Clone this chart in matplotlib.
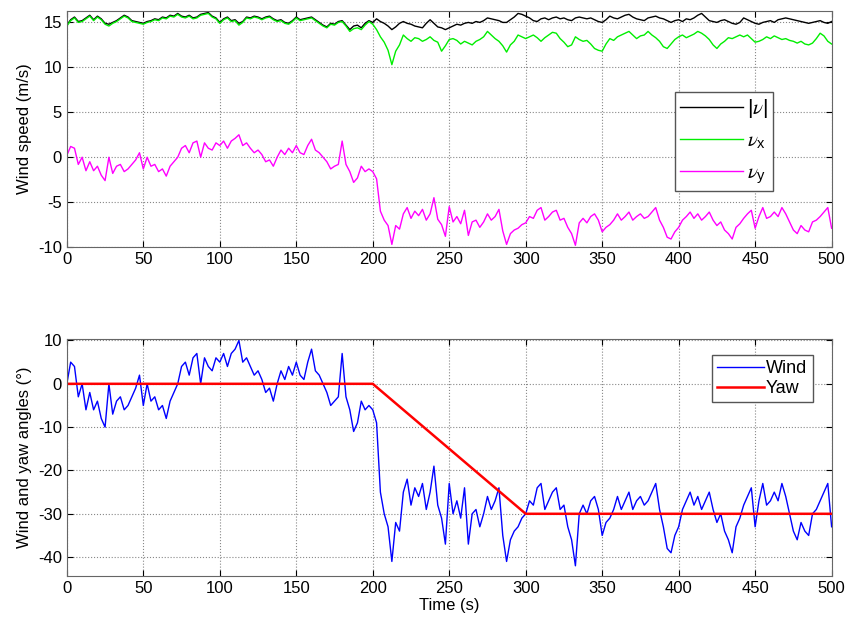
import numpy as np
import matplotlib.pyplot as plt

# time axis, one sample every 2.5 s
t = np.linspace(0, 500, 201)

v_abs = [
    14.7, 15.3, 15.6, 15.1, 15.2, 15.5, 15.8, 15.3, 15.7, 15.4, 14.9, 14.8, 15.0, 15.2, 15.5, 15.8, 15.6, 15.2, 15.1, 15.0,
    14.9, 15.1, 15.2, 15.4, 15.3, 15.6, 15.5, 15.8, 15.7, 16.0, 15.7, 15.6, 15.8, 15.5, 15.6, 15.9, 16.0, 16.1, 15.7, 15.5,
    15.0, 15.4, 15.6, 15.2, 15.3, 14.9, 15.1, 15.6, 15.5, 15.7, 15.6, 15.4, 15.6, 15.7, 15.4, 15.2, 15.3, 15.0, 14.9, 15.2,
    15.6, 15.3, 15.4, 15.5, 15.6, 15.3, 15.0, 14.7, 14.5, 14.9, 14.8, 15.1, 15.2, 14.7, 14.2, 14.6, 14.7, 14.4, 14.9, 15.2,
    15.0, 15.4, 15.1, 14.9, 14.6, 14.2, 14.5, 14.9, 15.1, 14.9, 14.8, 14.6, 14.5, 14.4, 14.9, 15.3, 14.9, 14.5, 14.4, 14.2,
    14.4, 14.6, 14.8, 14.7, 14.9, 15.0, 14.9, 15.1, 15.0, 15.2, 15.5, 15.4, 15.3, 15.2, 15.0, 15.0, 15.3, 15.6, 16.0, 15.9,
    15.7, 15.5, 15.2, 15.1, 15.4, 15.5, 15.3, 15.5, 15.6, 15.4, 15.5, 15.3, 15.2, 15.5, 15.6, 15.5, 15.4, 15.5, 15.3, 15.1,
    15.0, 15.3, 15.7, 15.5, 15.4, 15.6, 15.8, 15.9, 15.6, 15.4, 15.3, 15.2, 15.5, 15.6, 15.7, 15.5, 15.4, 15.2, 15.0, 15.2,
    15.3, 15.1, 15.4, 15.3, 15.5, 15.8, 16.0, 15.6, 15.2, 15.1, 15.0, 15.2, 15.3, 15.1, 14.9, 14.8, 15.0, 15.5, 15.3, 15.1,
    14.9, 14.8, 15.0, 15.1, 15.2, 15.0, 15.3, 15.4, 15.5, 15.4, 15.3, 15.2, 15.1, 15.0, 14.9, 15.0, 15.1, 15.2, 15.0, 14.9,
    15.1,
]

v_x = [
    14.6, 15.2, 15.5, 15.0, 15.1, 15.4, 15.7, 15.2, 15.6, 15.3, 14.8, 14.6, 14.9, 15.1, 15.4, 15.7, 15.5, 15.1, 15.0, 14.9,
    14.8, 15.0, 15.1, 15.3, 15.2, 15.5, 15.4, 15.7, 15.6, 15.9, 15.6, 15.5, 15.7, 15.4, 15.5, 15.8, 15.9, 16.0, 15.6, 15.4,
    14.9, 15.3, 15.5, 15.1, 15.2, 14.7, 15.0, 15.5, 15.4, 15.6, 15.5, 15.3, 15.5, 15.6, 15.3, 15.1, 15.2, 14.9, 14.8, 15.1,
    15.5, 15.2, 15.3, 15.4, 15.5, 15.2, 14.9, 14.6, 14.4, 14.8, 14.7, 15.0, 15.1, 14.6, 14.0, 14.3, 14.4, 14.2, 14.7, 15.1,
    14.8, 14.2, 13.4, 12.8, 11.9, 10.3, 11.8, 12.5, 13.6, 13.2, 12.9, 13.3, 13.2, 12.9, 13.1, 13.4, 13.0, 12.8, 11.8, 12.4,
    13.1, 13.2, 13.0, 12.6, 12.9, 12.7, 12.5, 12.9, 13.1, 13.4, 14.0, 13.6, 13.2, 12.9, 12.4, 11.7, 12.5, 12.9, 13.6, 13.4,
    13.2, 13.4, 13.6, 13.3, 12.9, 13.3, 13.6, 13.9, 13.8, 13.2, 12.8, 12.3, 12.5, 13.4, 13.1, 12.9, 13.0, 12.6, 12.1, 11.9,
    11.8, 12.6, 13.2, 13.0, 13.4, 13.6, 13.8, 14.0, 13.6, 13.2, 13.5, 13.6, 14.0, 13.6, 13.3, 12.9, 12.3, 12.1, 12.6, 13.1,
    13.4, 13.6, 13.3, 13.5, 13.7, 14.0, 13.8, 13.5, 13.1, 12.5, 12.1, 12.6, 12.9, 13.3, 13.2, 13.4, 13.6, 13.4, 13.6, 13.2,
    12.8, 12.9, 13.1, 13.4, 13.2, 13.5, 13.3, 13.1, 13.2, 13.0, 12.9, 12.7, 12.9, 12.6, 12.5, 12.7, 13.2, 13.8, 13.5, 12.9,
    12.6,
]

v_y = [
    0.2, 1.2, 1.0, -0.8, 0.0, -1.5, -0.5, -1.5, -1.0, -2.0, -2.6, 0.0, -1.8, -1.0, -0.8, -1.6, -1.3, -0.8, -0.3, 0.5,
    -1.3, 0.0, -1.0, -0.8, -1.6, -1.3, -2.1, -1.0, -0.5, 0.0, 1.0, 1.3, 0.5, 1.6, 1.8, 0.0, 1.6, 1.0, 0.8, 1.6,
    1.3, 1.8, 1.0, 1.8, 2.1, 2.5, 1.3, 1.6, 1.0, 0.5, 0.8, 0.3, -0.5, -0.3, -1.0, 0.0, 0.8, 0.3, 1.0, 0.5,
    1.3, 0.5, 0.3, 1.3, 2.0, 0.8, 0.5, 0.0, -0.5, -1.3, -1.0, -0.8, 1.8, -0.8, -1.6, -2.8, -2.3, -1.0, -1.6, -1.3,
    -1.6, -2.4, -6.0, -7.0, -7.6, -9.7, -7.6, -8.0, -6.3, -5.6, -6.8, -6.0, -6.5, -5.8, -7.0, -6.3, -4.5, -6.9, -7.5, -8.8,
    -5.5, -7.2, -6.6, -7.4, -5.9, -8.7, -7.2, -7.0, -7.8, -7.2, -6.3, -7.0, -6.6, -5.8, -8.2, -9.7, -8.5, -8.1, -7.9, -7.5,
    -7.3, -6.6, -6.8, -5.9, -5.6, -7.0, -6.6, -6.1, -5.9, -7.0, -6.8, -7.8, -8.5, -9.8, -7.3, -6.8, -7.3, -6.6, -6.3, -7.0,
    -8.3, -7.8, -7.5, -7.0, -6.3, -7.0, -6.6, -6.1, -7.0, -6.6, -6.3, -6.8, -6.6, -6.1, -5.6, -7.0, -7.8, -8.9, -9.1, -8.3,
    -7.8, -7.0, -6.6, -6.1, -6.8, -6.3, -7.0, -6.6, -6.1, -7.0, -7.6, -7.2, -8.1, -8.5, -9.1, -7.8, -7.4, -6.8, -6.3, -5.9,
    -7.9, -6.6, -5.6, -6.8, -6.6, -6.1, -6.6, -5.6, -6.3, -7.2, -8.1, -8.5, -7.6, -8.1, -8.3, -7.2, -7.0, -6.6, -6.1, -5.6,
    -7.9,
]

wind = [
    0, 5, 4, -3, 0, -6, -2, -6, -4, -8, -10, 0, -7, -4, -3, -6, -5, -3, -1, 2,
    -5, 0, -4, -3, -6, -5, -8, -4, -2, 0, 4, 5, 2, 6, 7, 0, 6, 4, 3, 6,
    5, 7, 4, 7, 8, 10, 5, 6, 4, 2, 3, 1, -2, -1, -4, 0, 3, 1, 4, 2,
    5, 2, 1, 5, 8, 3, 2, 0, -2, -5, -4, -3, 7, -3, -6, -11, -9, -4, -6, -5,
    -6, -9, -25, -30, -33, -41, -32, -34, -25, -22, -28, -24, -26, -23, -29, -25, -19, -28, -31, -37,
    -23, -30, -27, -31, -24, -37, -30, -29, -33, -30, -26, -29, -27, -24, -35, -41, -36, -34, -33, -31,
    -30, -27, -28, -24, -23, -29, -27, -25, -24, -29, -28, -33, -36, -42, -30, -28, -30, -27, -26, -29,
    -35, -32, -31, -29, -26, -29, -27, -25, -29, -27, -26, -28, -27, -25, -23, -29, -33, -38, -39, -35,
    -33, -29, -27, -25, -28, -26, -29, -27, -25, -29, -32, -30, -34, -36, -39, -33, -31, -28, -26, -24,
    -33, -27, -23, -28, -27, -25, -27, -23, -26, -30, -34, -36, -32, -34, -35, -30, -29, -27, -25, -23,
    -33,
]

yaw_t = [0, 200, 300, 500]
yaw = [0, 0, -30, -30]

plt.rcParams['font.family'] = ['Liberation Sans', 'DejaVu Sans']
plt.rcParams['mathtext.fontset'] = 'custom'
plt.rcParams['mathtext.it'] = 'STIXGeneral:italic'
plt.rcParams['mathtext.rm'] = 'Liberation Sans'
plt.rcParams['axes.unicode_minus'] = False

fig = plt.figure(figsize=(8.46, 6.32), dpi=100)
ax1 = fig.add_axes([0.079, 0.609, 0.904, 0.374])
ax2 = fig.add_axes([0.079, 0.089, 0.904, 0.375])

ax1.plot(t, v_abs, color='black', lw=1.0, label=r'$|\nu|$')
ax1.plot(t, v_x, color='#00ee00', lw=1.0, label=r'$\nu_{\mathrm{x}}$')
ax1.plot(t, v_y, color='#ff00ff', lw=1.0, label=r'$\nu_{\mathrm{y}}$')
ax1.set_xlim(0, 500)
ax1.set_ylim(-10, 16.3)
ax1.set_yticks([-10, -5, 0, 5, 10, 15])
ax1.set_ylabel('Wind speed (m/s)', fontsize=12)
ax1.legend(loc='upper right', bbox_to_anchor=(0.937, 0.70), fontsize=15,
           fancybox=False, edgecolor='#555555', framealpha=1, labelspacing=0.55,
           handlelength=3.0, handletextpad=0.2, borderpad=0.25)

ax2.plot(t, wind, color='#0000ff', lw=1.0, label='Wind')
ax2.plot(yaw_t, yaw, color='#ff0000', lw=1.8, label='Yaw')
ax2.set_xlim(0, 500)
ax2.set_ylim(-44.3, 10.4)
ax2.set_yticks([-40, -30, -20, -10, 0, 10])
ax2.set_ylabel('Wind and yaw angles (°)', fontsize=12)
ax2.set_xlabel('Time (s)', fontsize=12, labelpad=2)
ax2.legend(loc='upper right', bbox_to_anchor=(0.987, 0.97), fontsize=13,
           fancybox=False, edgecolor='#555555', framealpha=1, labelspacing=0.15,
           handlelength=2.6, handletextpad=0.1, borderpad=0.3)

for ax in (ax1, ax2):
    ax.set_xticks(range(0, 501, 50))
    ax.grid(True, linestyle=':', color='#888888', lw=0.8)
    ax.tick_params(direction='in', top=True, right=True, labelsize=12, length=4)
    for s in ax.spines.values():
        s.set_color('#666666')

fig.savefig('out.png', dpi=100)
